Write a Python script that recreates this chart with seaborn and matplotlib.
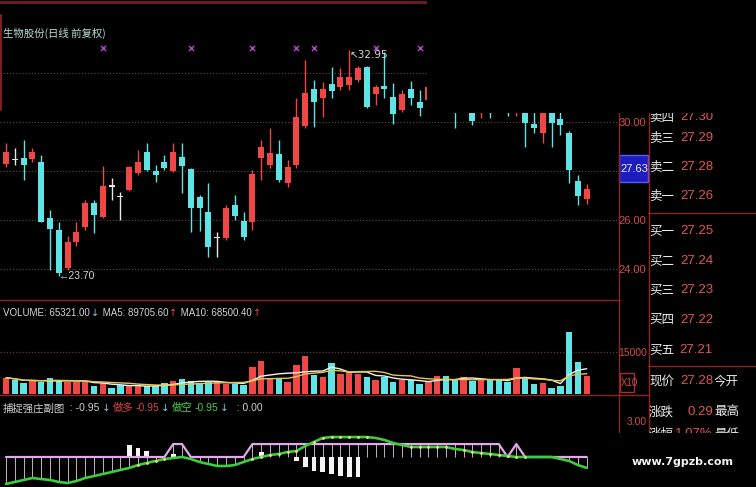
import matplotlib

matplotlib.use("Agg")
import matplotlib.pyplot as plt
import numpy as np
import pandas as pd
import seaborn as sns
from matplotlib import font_manager
from matplotlib.lines import Line2D
from matplotlib.patches import Rectangle

# daily candles (price panel)
open_ = [28.29, 28.47, 28.53, 28.49, 28.37, 26.08, 25.59, 24.04, 25.10, 25.71,
         26.69, 26.12, 27.37, 26.96, 27.22, 27.92, 28.78, 28.00, 28.37, 28.00,
         28.57, 28.08, 26.94, 26.33, 25.26, 25.27, 26.61, 25.96, 25.92, 28.53,
         28.25, 28.69, 27.51, 28.25, 29.84, 31.35, 30.98, 31.55, 31.43, 31.51,
         31.71, 32.25, 31.14, 31.47, 31.02, 30.49, 31.35, 30.82, 30.90, 31.20,
         31.60, 30.90, 30.50, 30.60, 30.45, 30.70, 30.80, 30.70, 30.45, 30.60,
         29.92, 29.55, 30.50, 30.12, 29.55, 27.59, 26.86]
high = [29.14, 28.94, 29.27, 28.94, 28.65, 26.41, 25.92, 25.35, 25.92, 26.82,
        26.82, 28.20, 27.71, 27.14, 28.20, 28.86, 29.14, 28.25, 28.65, 29.14,
        29.14, 28.12, 27.02, 27.51, 25.51, 26.61, 27.02, 26.33, 28.04, 29.27,
        29.76, 29.27, 28.45, 30.98, 32.53, 31.71, 31.63, 32.25, 32.20, 32.95,
        32.30, 32.30, 31.51, 32.86, 31.59, 31.31, 31.67, 31.31, 31.51, 31.80,
        31.80, 31.00, 31.10, 30.80, 30.80, 30.80, 30.90, 30.80, 31.00, 30.70,
        30.50, 30.60, 30.60, 30.50, 29.65, 27.84, 27.47]
low = [28.16, 28.25, 27.63, 28.37, 25.90, 23.96, 23.70, 23.96, 24.94, 25.59,
       25.47, 26.10, 26.82, 26.00, 27.18, 27.84, 28.00, 27.55, 28.04, 27.96,
       27.10, 25.51, 25.55, 24.49, 24.49, 25.18, 26.00, 25.18, 25.59, 27.63,
       28.12, 27.55, 27.35, 28.12, 29.76, 29.80, 30.20, 30.98, 31.31, 31.31,
       31.63, 30.57, 30.69, 30.98, 29.92, 30.41, 30.69, 30.25, 30.82, 30.90,
       30.80, 29.76, 30.45, 29.88, 30.16, 30.16, 30.45, 30.25, 30.25, 28.98,
       29.55, 29.14, 28.98, 29.47, 27.51, 26.61, 26.65]
close = [28.78, 28.45, 28.25, 28.78, 25.92, 25.63, 23.84, 25.10, 25.51, 26.69,
         26.20, 27.39, 27.35, 26.94, 28.16, 28.37, 28.04, 27.84, 28.12, 28.78,
         28.20, 26.49, 26.49, 24.90, 25.28, 26.49, 26.16, 25.31, 27.88, 28.98,
         28.73, 27.63, 28.16, 30.20, 31.18, 30.82, 31.35, 31.27, 31.84, 31.84,
         32.20, 30.61, 31.43, 31.35, 30.33, 31.14, 30.98, 30.57, 31.43, 31.60,
         31.00, 30.50, 30.90, 30.04, 30.70, 30.45, 30.50, 30.45, 30.90, 29.96,
         29.76, 30.50, 29.96, 29.88, 28.04, 26.98, 27.28]

volume = [58200, 50000, 39300, 46400, 42900, 57100, 46400, 42900, 42900, 42900,
          28600, 39300, 21400, 32100, 28600, 28600, 28600, 28600, 39300, 46400,
          53600, 46400, 39300, 42900, 42900, 35700, 35700, 32100, 96400, 117900,
          57100, 57100, 42900, 103600, 135700, 67900, 60700, 110700, 71400, 78600,
          71400, 60700, 50000, 60700, 42900, 50000, 50000, 35700, 42900, 64300,
          64300, 50000, 60700, 46400, 50000, 50000, 50000, 42900, 92900, 60700,
          35700, 39300, 21400, 28600, 221400, 114300, 65321]

# indicator panel (捕捉强庄副图)
green_line = [-2.31, -2.14, -1.97, -1.80, -1.89, -1.97, -2.14, -2.23, -2.06, -1.80,
              -1.63, -1.46, -1.29, -1.11, -0.94, -0.69, -0.51, -0.34, -0.17, -0.09,
              0.00, -0.17, -0.43, -0.60, -0.77, -0.77, -0.69, -0.43, -0.17, 0.00,
              0.17, 0.26, 0.43, 0.51, 0.94, 1.29, 1.63, 1.71, 1.71, 1.71,
              1.71, 1.71, 1.63, 1.46, 1.20, 1.03, 0.86, 0.86, 0.86, 0.86,
              0.86, 0.69, 0.60, 0.43, 0.34, 0.26, 0.17, 0.09, 0.00, 0.00,
              0.00, 0.00, 0.00, -0.17, -0.34, -0.69, -0.94]
pink_line = [0] * 19 + [1.11, 1.11] + [0] * 7 + [1.11] * 29 + [0, 1.11] + [0] * 8
white_days = [14, 15, 16, 19, 29, 33, 34, 35, 36, 37, 38, 39, 40]
white_low = [0, 0, 0, -0.09, -0.09, -0.34, -0.86, -1.20, -1.29, -1.46, -1.63, -1.71, -1.71]
white_high = [1.03, 0.77, 0.51, 0.26, 0.43, 0, 0, 0, 0, 0, 0, 0, 0]
dot_days = [15, 16, 17, 18, 28, 29, 30, 31, 32, 33, 35, 36, 37, 38, 39, 40, 41,
            46, 47, 48, 49, 50, 52, 53, 54, 55, 56, 57, 58, 59]

signal_days = [11, 21, 28, 33, 35, 42, 47]

price_ticks = [30.00, 26.00, 24.00]
grid_prices = [32, 30, 28, 26, 24]

book_labels = ["卖四", "卖三", "卖二", "卖一", "买一", "买二", "买三", "买四", "买五", "现价", "涨跌", "涨幅"]
book_values = ["27.30", "27.29", "27.28", "27.26", "27.25", "27.24", "27.23", "27.22", "27.21",
               "27.28", "0.29", "1.07%"]
book_rows = [117, 138, 167, 196, 231, 261, 290, 320, 350, 381, 412, 434]
quote_labels = ["今开", "最高", "最低"]

W, H = 756, 487
RED = "#f04646"
CYAN = "#5ee4e4"
CROSS = "#e6e6e6"
FRAME = "#8e2424"
GRID = "#5e3a3a"
AXIS_TXT = "#d24c4c"
GREEN = "#3ccc3c"
PINK = "#e2a8ec"
CJK = ["Noto Sans CJK SC", "DejaVu Sans"]

names = {f.name for f in font_manager.fontManager.ttflist}
NARROW = "Liberation Sans Narrow" if "Liberation Sans Narrow" in names else "Liberation Sans"
NUM = [NARROW, "DejaVu Sans"]


def fx(x):
    return x / W


def fy(y):
    return 1 - y / H


def hline(fig, y, x0, x1, color=FRAME, lw=1.0, **kw):
    fig.add_artist(Line2D([fx(x0), fx(x1)], [fy(y), fy(y)], color=color, lw=lw,
                          transform=fig.transFigure, **kw))


def vline(fig, x, y0, y1, color=FRAME, lw=1.0, **kw):
    fig.add_artist(Line2D([fx(x), fx(x)], [fy(y0), fy(y1)], color=color, lw=lw,
                          transform=fig.transFigure, **kw))


def text_run(fig, x, y, pieces, size, gap=2):
    renderer = fig.canvas.get_renderer()
    for s, color, family in pieces:
        t = fig.text(fx(x), fy(y), s, color=color, fontsize=size, va="center", family=family)
        x += t.get_window_extent(renderer=renderer).width + gap


sns.set_theme(style="dark", rc={"axes.facecolor": "black", "figure.facecolor": "black"})
plt.rcParams["font.family"] = CJK

fig = plt.figure(figsize=(W / 100, H / 100), dpi=100)
xlim = (-0.682, 69.55)

ax_p = fig.add_axes([0, fy(300), fx(618), 297 / H])
ax_v = fig.add_axes([0, fy(395), fx(618), 95 / H])
ax_i = fig.add_axes([0, 0, fx(618), 90 / H])

days = np.arange(len(open_))
o, h, l, c = map(np.array, (open_, high, low, close))
up = c >= o
cross = np.abs(c - o) < 0.05
colors = np.where(cross, CROSS, np.where(up, RED, CYAN))

# price panel
for p in grid_prices:
    ax_p.axhline(p, color=GRID, lw=0.9, ls=(0, (1, 1.5)), zorder=0)
ax_p.vlines(days, l, h, colors=colors, lw=1, zorder=2)
ax_p.bar(days, np.maximum(np.abs(c - o), 0.06), bottom=np.minimum(o, c), width=0.68,
         color=colors, linewidth=0, zorder=3)
ax_p.scatter(signal_days, [33.0] * len(signal_days), marker="x", s=14, color="#b446c8",
             linewidths=1, zorder=3)
ax_p.text(39, 32.95, "↖32.95", color="#d8d8d8", fontsize=7.5, va="top", ha="left",
          family=["DejaVu Sans"])
ax_p.text(6, 23.70, "←23.70", color="#d8d8d8", fontsize=7.5, va="center", ha="left",
          family=NUM)
ax_p.set_xlim(xlim)
ax_p.set_ylim(22.735, 34.857)
ax_p.axis("off")

# volume panel
vol = pd.DataFrame({"day": days, "volume": volume, "trend": np.where(up, "up", "down")})
sns.barplot(data=vol, x="day", y="volume", hue="trend", palette={"up": RED, "down": CYAN},
            dodge=False, width=0.72, saturation=1, legend=False, linewidth=0, ax=ax_v)
ma5 = vol["volume"].rolling(5, min_periods=1).mean()
ma10 = vol["volume"].rolling(10, min_periods=1).mean()
sns.lineplot(x=days, y=ma5.values, color="#f2f2f2", lw=1, ax=ax_v)
sns.lineplot(x=days, y=ma10.values, color="#e8c64a", lw=1, ax=ax_v)
ax_v.axhline(150000, color=GRID, lw=0.9, ls=(0, (1, 1.5)), zorder=0)
ax_v.set_xlim(xlim)
ax_v.set_ylim(-3571, 335700)
ax_v.axis("off")

# indicator panel
g = np.array(green_line)
pk = np.array(pink_line)
ax_i.vlines(days, pk, np.minimum(g, 0), colors="#c8b0c8", lw=0.7, zorder=1)
ax_i.bar(white_days, np.array(white_high) - np.array(white_low), bottom=white_low,
         width=0.55, color="#f4f4f4", linewidth=0, zorder=2)
sns.lineplot(x=days, y=pk, color=PINK, lw=1.6, ax=ax_i, zorder=3)
sns.lineplot(x=days, y=g, color=GREEN, lw=1.9, ax=ax_i, zorder=4)
ax_i.scatter(dot_days, g[dot_days], s=4, color="#efe08a", linewidths=0, zorder=5)
ax_i.set_xlim(xlim)
ax_i.set_ylim(-2.57, 5.14)
ax_i.axis("off")

# frame lines
hline(fig, 2, 0, 618, color="#6e1e1e", lw=2)
hline(fig, 300, 0, 618)
hline(fig, 395, 0, 648)
hline(fig, 213, 648, 756)
hline(fig, 366, 648, 756)
vline(fig, 618.5, 0, 433)
vline(fig, 648.5, 112, 433)
vline(fig, 1, 15, 110, color="#7a2020", lw=1.5)

# texts
fig.text(fx(3), fy(33), "生物股份(日线 前复权)", color="#b8dcdc", fontsize=7.5, va="center",
         family=CJK)
for p in price_ticks:
    fig.text(fx(646), fy(34.98 * 24.5 - p * 24.5 + 1), f"{p:.2f}", color=AXIS_TXT,
             fontsize=8, ha="right", va="center", family=NUM)
fig.add_artist(Rectangle((fx(618.5), fy(182)), fx(29.5), 27 / H, transform=fig.transFigure,
                         facecolor="#1c1cc0", edgecolor="#5a5aff", lw=1))
fig.text(fx(620), fy(168.5), "27.63", color="#f0f0ff", fontsize=8, va="center", family=NUM)

text_run(fig, 3, 313, [("VOLUME: 65321.00", "#d4d4d4", NUM), ("↓", "#7ec8e6", "DejaVu Sans"),
                       (" MA5: 89705.60", "#d4d4d4", NUM), ("↑", RED, "DejaVu Sans"),
                       (" MA10: 68500.40", "#d4d4d4", NUM), ("↑", RED, "DejaVu Sans")],
         7, gap=1)
fig.text(fx(647), fy(353), "15000", color=AXIS_TXT, fontsize=7.5, ha="right", va="center",
         family=NUM)
fig.add_artist(Rectangle((fx(619.5), fy(392)), fx(14), 19 / H, transform=fig.transFigure,
                         facecolor="none", edgecolor="#a83030", lw=1))
fig.text(fx(620.5), fy(382.5), "X10", color=AXIS_TXT, fontsize=7, va="center", family=NUM)
fig.text(fx(647), fy(422), "3.00", color=AXIS_TXT, fontsize=7.5, ha="right", va="center",
         family=NUM)

text_run(fig, 3, 408, [("捕捉强庄副图", "#d0d0d0", CJK), (" : -0.95", "#d0d0d0", NUM),
                       ("↓", "#7ec8e6", "DejaVu Sans"), ("做多", "#e04444", CJK),
                       ("-0.95", "#e04444", NUM), ("↓", "#7ec8e6", "DejaVu Sans"),
                       ("做空", "#44d044", CJK), ("-0.95", "#44d044", NUM),
                       ("↓", "#7ec8e6", "DejaVu Sans"), ("  : 0.00", "#d0d0d0", NUM)],
         7.5, gap=2)

for label, value, row in zip(book_labels, book_values, book_rows):
    fig.text(fx(649), fy(row), label, color="#ececec", fontsize=9, va="center", family=CJK)
    fig.text(fx(713), fy(row), value, color="#e45454", fontsize=9.5, ha="right", va="center",
             family=NUM)
for label, row in zip(quote_labels, book_rows[-3:]):
    fig.text(fx(714), fy(row), label, color="#ececec", fontsize=9, va="center", family=CJK)

# blacked-out corners of the screenshot
fig.add_artist(Rectangle((fx(427), fy(112.5)), 1 - fx(427), 112.5 / H,
                         transform=fig.transFigure, facecolor="black", lw=0, zorder=20))
fig.add_artist(Rectangle((fx(596), 0), 1 - fx(596), (H - 433) / H,
                         transform=fig.transFigure, facecolor="black", lw=0, zorder=20))
fig.text(fx(683), fy(462), "www.7gpzb.com", color="#f4f4f4", fontsize=8, weight="bold",
         ha="center", va="center", family="DejaVu Sans", zorder=30)

fig.savefig("out.png", dpi=100, facecolor="black")
